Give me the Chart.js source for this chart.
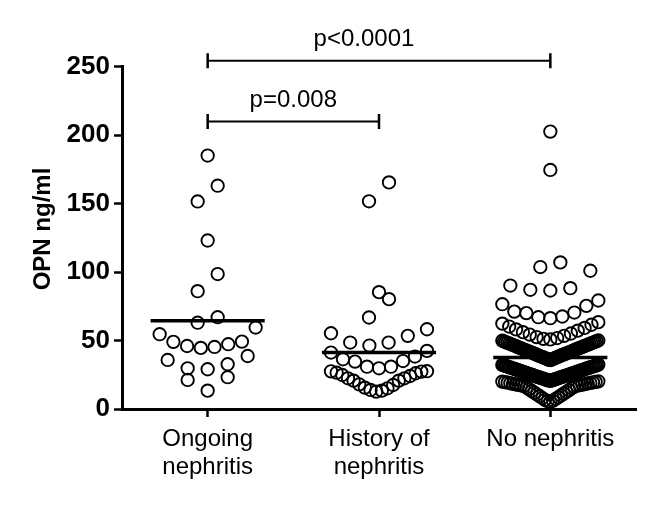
<!DOCTYPE html>
<html>
<head>
<meta charset="utf-8">
<script src="https://cdn.jsdelivr.net/npm/chart.js@4"></script>
<style>
  html, body { margin: 0; padding: 0; background: #fff; }
  canvas { display: block; }
</style>
</head>
<body>
<canvas id="c" width="653" height="507"></canvas>
<script>
// ---------------- data ----------------
const categories = [['Ongoing', 'nephritis'], ['History of', 'nephritis'], ['No nephritis']];
const yTicks = [0, 50, 100, 150, 200, 250];
const yTitle = 'OPN ng/ml';

const ongoingNephritis = [185, 163, 151.5, 123, 98.5, 86, 67, 63, 59.5, 54.6, 49.2, 49, 47.3, 46, 45.3, 44.6,
  38.7, 35.8, 32.7, 29.7, 29, 23.2, 21.2, 13.4];

const historyOfNephritis = [165.4, 151.6, 85.3, 80.2, 66.8, 58.2, 55.3, 53.4, 48.5, 48.5, 46.3,
  42.4, 41.2, 38.3, 36.3, 35.0, 34.6, 30.9, 30.9, 29.7,
  27.6, 27.5, 27.3, 26.5, 26.1, 24.8, 24.1, 22.4, 22.4, 20.7, 20.7, 18.0, 17.5, 15.6, 15.1, 13.9, 13.4, 12.7];

const noNephritis = [202.5, 174.5, 107.0, 103.6, 100.9, 90.1, 88.2, 87.0, 86.5,
  79.2, 76.5, 75.3, 71.1, 70.4, 70.0, 67.5, 67.0, 66.3,
  63.4, 62.3, 61.5, 60.2, 59.2, 58.1, 57.2, 56.1, 55.1, 54.3, 53.4, 52.5, 51.8, 51.2, 50.8,
  50.0, 49.8, 49.5, 49.3, 49.0, 48.8, 48.5, 48.3, 48.0, 47.8, 47.5, 47.3, 47.0, 46.8, 46.5, 46.3, 46.0, 45.8,
  45.5, 45.2, 45.0, 44.7, 44.5, 44.2, 44.0, 43.7, 43.5, 43.2, 43.0, 42.7, 42.4, 42.2, 41.9, 41.7, 41.4, 41.2,
  40.9, 40.7, 40.4, 40.2, 39.9, 39.6, 39.4, 39.1, 38.9, 38.6, 38.4, 38.1, 37.9, 37.6, 37.3, 37.1, 36.8, 36.5,
  36.2, 35.9, 35.7,
  32.4, 32.2, 32.0, 31.9, 31.7, 31.5, 31.3, 31.2, 31.0, 30.8, 30.6, 30.4, 30.3, 30.1, 29.9, 29.7, 29.6, 29.4,
  29.2, 29.0, 28.8, 28.7, 28.5, 28.3, 28.1, 28.0, 27.8, 27.6, 27.4, 27.2, 27.1, 26.9, 26.7, 26.5, 26.4, 26.2,
  26.0, 25.8, 25.6, 25.5, 25.3, 25.1, 24.9, 24.8, 24.6, 24.4, 24.2, 24.0, 23.9, 23.7, 23.5, 23.3, 23.2, 23.0,
  22.8, 22.6, 22.4, 22.3, 22.1, 21.9, 21.7, 21.6, 21.4, 21.2, 21.0, 20.9, 20.7, 20.6,
  20.2, 20.0, 19.8, 19.6, 19.4, 19.2, 19.0, 18.8, 18.6, 18.4, 18.2, 18.0, 17.8, 17.6, 17.4, 17.2, 17.0, 16.8,
  16.3, 15.7, 15.1, 14.5, 13.8, 13.2, 12.5, 11.9, 11.2, 10.6, 9.9, 9.3, 8.6, 8.0, 7.3, 6.7, 6.1, 5.7, 5.3];

const groupValues = [ongoingNephritis, historyOfNephritis, noNephritis];
const meanLines = [64.5, 41.2, 37.6];

const comparisonFrom = [0, 0];
const comparisonTo = [2, 1];
const comparisonLabels = ['p<0.0001', 'p=0.008'];
const comparisonLevels = [254.2, 209.8];

// ---------------- layout helpers (GraphPad-like row scatter) ----------------
const ROW_BIN = 15;       // value units grouped in one row
const MAX_STEP_PX = 20;   // max horizontal step between points in a row
const ROW_SPAN_PX = 96;   // max total horizontal spread of a row
const MEAN_HALF = 0.333;  // half width of mean line (category units)

function layoutGroup(values, center, pxPerUnit) {
  const sorted = [...values].sort((a, b) => a - b);
  const rows = [];
  let cur = [];
  for (const v of sorted) {
    if (cur.length && v - cur[0] >= ROW_BIN) { rows.push(cur); cur = []; }
    cur.push(v);
  }
  if (cur.length) rows.push(cur);
  const pts = [];
  rows.forEach(row => {
    const n = row.length;
    const s = n > 1 ? Math.min(MAX_STEP_PX, ROW_SPAN_PX / (n - 1)) : 0;
    row.forEach((v, i) => {
      let k;
      if (n % 2) k = i === 0 ? 0 : (i % 2 ? -Math.ceil(i / 2) : Math.ceil(i / 2));
      else { const j = Math.floor(i / 2) + 0.5; k = i % 2 === 0 ? -j : j; }
      pts.push({ x: center + k * s / pxPerUnit, y: v });
    });
  });
  return pts;
}

function buildDatasets(pxPerUnit) {
  const ds = groupValues.map((vals, gi) => ({
    type: 'scatter',
    data: layoutGroup(vals, gi + 1, pxPerUnit),
    pointStyle: 'circle',
    pointRadius: 6.2,
    pointBorderWidth: 1.9,
    pointBorderColor: '#000',
    pointBackgroundColor: 'rgba(255,255,255,0)',
    clip: false,
    order: 2
  }));
  meanLines.forEach((m, gi) => {
    ds.push({
      type: 'scatter',
      showLine: true,
      data: [{ x: gi + 1 - MEAN_HALF, y: m }, { x: gi + 1 + MEAN_HALF, y: m }],
      borderColor: '#000',
      borderWidth: 3.5,
      pointRadius: 0,
      clip: false,
      order: 1
    });
  });
  return ds;
}

const FONT = "'Liberation Sans', Arial, Helvetica, sans-serif";

const overlayPlugin = {
  id: 'overlay',
  afterDraw(chart) {
    const { ctx, scales: { x, y } } = chart;
    ctx.save();
    ctx.fillStyle = '#000';
    ctx.font = 'bold 24px ' + FONT;
    ctx.textAlign = 'center';
    ctx.textBaseline = 'alphabetic';
    ctx.translate(50, 229);
    ctx.rotate(-Math.PI / 2);
    ctx.fillText(yTitle, 0, 0);
    ctx.restore();

    ctx.save();
    ctx.strokeStyle = '#000';
    ctx.fillStyle = '#000';
    ctx.font = '24px ' + FONT;
    ctx.textAlign = 'center';
    ctx.textBaseline = 'alphabetic';
    const labelShift = [-15, 0];
    comparisonLabels.forEach((lab, i) => {
      const x1 = x.getPixelForValue(comparisonFrom[i] + 1);
      const x2 = x.getPixelForValue(comparisonTo[i] + 1);
      const yy = y.getPixelForValue(comparisonLevels[i]);
      ctx.lineWidth = 2;
      ctx.beginPath();
      ctx.moveTo(x1, yy); ctx.lineTo(x2, yy);
      ctx.stroke();
      ctx.lineWidth = 2.5;
      ctx.beginPath();
      ctx.moveTo(x1, yy - 7.5); ctx.lineTo(x1, yy + 7.5);
      ctx.moveTo(x2, yy - 7.5); ctx.lineTo(x2, yy + 7.5);
      ctx.stroke();
      ctx.fillText(lab, (x1 + x2) / 2 + labelShift[i], yy - 14.5);
    });
    ctx.restore();
  }
};

const axisGrid = {
  display: true,
  drawOnChartArea: false,
  drawTicks: true,
  tickLength: 8,
  tickWidth: 2.5,
  tickColor: '#000',
  color: '#000'
};

const chart = new Chart(document.getElementById('c'), {
  type: 'scatter',
  data: { datasets: buildDatasets(171.4) },
  options: {
    responsive: false,
    animation: false,
    devicePixelRatio: 1,
    layout: { padding: { left: 0, right: 17, top: 66.5, bottom: 0 } },
    plugins: { legend: { display: false }, tooltip: { enabled: false } },
    scales: {
      x: {
        type: 'linear',
        min: 0.5,
        max: 3.5,
        afterBuildTicks: s => { s.ticks = [1, 2, 3].map(v => ({ value: v })); },
        afterFit: s => { s.height = 98; },
        ticks: {
          callback: v => categories[Math.round(v) - 1],
          font: { family: FONT, size: 24, lineHeight: 1.17 },
          color: '#000',
          padding: 8,
          maxRotation: 0,
          autoSkip: false
        },
        grid: axisGrid,
        border: { display: true, color: '#000', width: 3 }
      },
      y: {
        type: 'linear',
        min: 0,
        max: 250,
        afterBuildTicks: s => { s.ticks = yTicks.map(v => ({ value: v })); },
        afterFit: s => { s.width = 122; },
        ticks: {
          font: { family: FONT, size: 26, weight: 'bold' },
          color: '#000',
          padding: 4
        },
        grid: axisGrid,
        border: { display: true, color: '#000', width: 3 }
      }
    }
  },
  plugins: [overlayPlugin]
});

const pxPerUnit = chart.scales.x.getPixelForValue(2) - chart.scales.x.getPixelForValue(1);
chart.data.datasets = buildDatasets(pxPerUnit);
chart.update('none');
</script>
</body>
</html>
